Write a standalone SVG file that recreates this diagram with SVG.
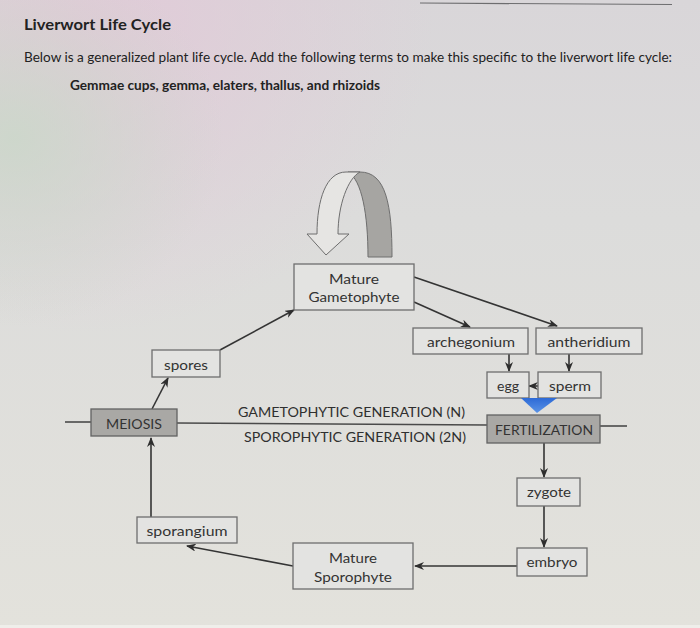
<svg xmlns="http://www.w3.org/2000/svg" width="700" height="628" viewBox="0 0 700 628">
  <defs>
    <linearGradient id="bg" x1="0" y1="0" x2="0" y2="1">
      <stop offset="0" stop-color="#d9d6d9"/>
      <stop offset="0.35" stop-color="#dcdcdb"/>
      <stop offset="1" stop-color="#e3e2dc"/>
    </linearGradient>
    <radialGradient id="pink" cx="0.12" cy="0.03" r="0.5">
      <stop offset="0" stop-color="#e2c9d8" stop-opacity="0.9"/>
      <stop offset="1" stop-color="#e2c9d8" stop-opacity="0"/>
    </radialGradient>
    <radialGradient id="green" cx="0.02" cy="0.22" r="0.3">
      <stop offset="0" stop-color="#c9d8c8" stop-opacity="0.8"/>
      <stop offset="1" stop-color="#c9d8c8" stop-opacity="0"/>
    </radialGradient>
    <linearGradient id="blue" x1="0" y1="0" x2="0" y2="1">
      <stop offset="0" stop-color="#2d6ad6"/>
      <stop offset="1" stop-color="#5a93e6"/>
    </linearGradient>
    <marker id="ah" viewBox="0 0 10 8" refX="9" refY="4" markerWidth="10" markerHeight="8" markerUnits="userSpaceOnUse" orient="auto">
      <path d="M0,0 L10,4 L0,8 L3,4 z" fill="#2e2e2e"/>
    </marker>
    <style>
      .box { fill: #e3e3e1; stroke: #6e6e6e; stroke-width: 1.3; }
      .dark { fill: #a9a8a5; stroke: #626262; stroke-width: 1.3; }
      .lbl { font-family: Lato, "Open Sans", "Liberation Sans", sans-serif; font-size: 14px; fill: #333333; }
      .gen { font-family: Lato, "Open Sans", "Liberation Sans", sans-serif; font-size: 13.5px; fill: #2f2f2f; }
      .hdr { font-family: Lato, "Open Sans", "Liberation Sans", sans-serif; fill: #222222; }
      .con { fill: none; stroke: #343434; stroke-width: 1.6; }
      .genline { fill: none; stroke: #4a4a4a; stroke-width: 1.6; }
    </style>
  </defs>

  <rect x="0" y="0" width="700" height="628" fill="url(#bg)"/>
  <rect x="0" y="0" width="700" height="628" fill="url(#pink)"/>
  <rect x="0" y="0" width="700" height="628" fill="url(#green)"/>
  <rect x="0" y="625" width="700" height="3" fill="#efeeea"/>

  <line x1="420" y1="3" x2="672" y2="4.5" stroke="#6d6d6f" stroke-width="1.2"/>

  <text class="hdr" x="24" y="30" font-size="16" font-weight="bold" textLength="147" lengthAdjust="spacingAndGlyphs">Liverwort Life Cycle</text>
  <text class="hdr" x="24" y="62" font-size="12.5" textLength="648" lengthAdjust="spacingAndGlyphs">Below is a generalized plant life cycle.  Add the following terms to make this specific to the liverwort life cycle:</text>
  <text class="hdr" x="70" y="90" font-size="12.5" font-weight="bold" textLength="310" lengthAdjust="spacingAndGlyphs">Gemmae cups, gemma, elaters, thallus, and rhizoids</text>

  <g id="generation-line">
    <line class="genline" x1="65" y1="422" x2="91" y2="422"/>
    <line class="genline" x1="177" y1="423" x2="487" y2="425"/>
    <line class="genline" x1="600" y1="426" x2="627" y2="426"/>
    <text class="gen" x="238" y="417" textLength="227" lengthAdjust="spacingAndGlyphs">GAMETOPHYTIC GENERATION (N)</text>
    <text class="gen" x="244" y="442" textLength="222" lengthAdjust="spacingAndGlyphs">SPOROPHYTIC GENERATION (2N)</text>
  </g>

  <g id="connectors">
    <line class="con" x1="414" y1="302" x2="470" y2="327" marker-end="url(#ah)"/>
    <line class="con" x1="414" y1="277" x2="557" y2="326" marker-end="url(#ah)"/>
    <line class="con" x1="509" y1="354" x2="509" y2="371" marker-end="url(#ah)"/>
    <line class="con" x1="569" y1="354" x2="569" y2="371" marker-end="url(#ah)"/>
    <line class="con" x1="544" y1="386" x2="529" y2="386" marker-end="url(#ah)"/>
    <line class="con" x1="220" y1="350" x2="294" y2="310" marker-end="url(#ah)"/>
    <line class="con" x1="152" y1="409" x2="168" y2="378" marker-end="url(#ah)"/>
    <line class="con" x1="544" y1="443" x2="544" y2="477" marker-end="url(#ah)"/>
    <line class="con" x1="544" y1="500" x2="544" y2="547" marker-end="url(#ah)"/>
    <line class="con" x1="517" y1="566" x2="415" y2="566" marker-end="url(#ah)"/>
    <line class="con" x1="293" y1="566" x2="187" y2="546" marker-end="url(#ah)"/>
    <line class="con" x1="151" y1="517" x2="151" y2="438" marker-end="url(#ah)"/>
  </g>

  <g id="u-turn-arrow">
    <path d="M368,257 L392,257 C392,205 386,172 360,172 L348,172 C362,180 368,215 368,257 Z" fill="#a6a5a2" stroke="#6e6e6e" stroke-width="1"/>
    <path d="M317,234 C317,200 326,172 346,172 L360,172 C348,178 338,205 338,234 L349,234 L326,255 L307,234 Z" fill="#e6e5e3" stroke="#6e6e6e" stroke-width="1"/>
  </g>

  <g id="mature-gametophyte">
    <rect class="box" x="294" y="264" width="120" height="46"/>
    <text class="lbl" x="354" y="284" text-anchor="middle" textLength="50" lengthAdjust="spacingAndGlyphs">Mature</text>
    <text class="lbl" x="354" y="302" text-anchor="middle" textLength="91" lengthAdjust="spacingAndGlyphs">Gametophyte</text>
  </g>

  <g id="archegonium">
    <rect class="box" x="413" y="328" width="115" height="26"/>
    <text class="lbl" x="471" y="347" text-anchor="middle" textLength="88" lengthAdjust="spacingAndGlyphs">archegonium</text>
  </g>

  <g id="antheridium">
    <rect class="box" x="536" y="328" width="106" height="26"/>
    <text class="lbl" x="589" y="347" text-anchor="middle" textLength="83" lengthAdjust="spacingAndGlyphs">antheridium</text>
  </g>

  <g id="egg">
    <rect class="box" x="487" y="372" width="42" height="26"/>
    <text class="lbl" x="508" y="391" text-anchor="middle" textLength="22" lengthAdjust="spacingAndGlyphs">egg</text>
  </g>

  <g id="sperm">
    <rect class="box" x="538" y="372" width="63" height="26"/>
    <text class="lbl" x="570" y="391" text-anchor="middle" textLength="42" lengthAdjust="spacingAndGlyphs">sperm</text>
  </g>

  <g id="fusion-triangle">
    <path d="M521,398 L557,398 L537,413 Z" fill="url(#blue)"/>
  </g>

  <g id="spores">
    <rect class="box" x="152" y="350" width="68" height="27"/>
    <text class="lbl" x="186" y="370" text-anchor="middle" textLength="44" lengthAdjust="spacingAndGlyphs">spores</text>
  </g>

  <g id="meiosis">
    <rect class="dark" x="91" y="409" width="86" height="27"/>
    <text class="lbl" x="134" y="429" text-anchor="middle" textLength="56" lengthAdjust="spacingAndGlyphs">MEIOSIS</text>
  </g>

  <g id="fertilization">
    <rect class="dark" x="487" y="415" width="113" height="28"/>
    <text class="lbl" x="544" y="435" text-anchor="middle" textLength="98" lengthAdjust="spacingAndGlyphs">FERTILIZATION</text>
  </g>

  <g id="zygote">
    <rect class="box" x="517" y="478" width="63" height="28"/>
    <text class="lbl" x="549" y="497" text-anchor="middle" textLength="44" lengthAdjust="spacingAndGlyphs">zygote</text>
  </g>

  <g id="embryo">
    <rect class="box" x="517" y="548" width="70" height="28"/>
    <text class="lbl" x="552" y="567" text-anchor="middle" textLength="51" lengthAdjust="spacingAndGlyphs">embryo</text>
  </g>

  <g id="mature-sporophyte">
    <rect class="box" x="293" y="543" width="120" height="46"/>
    <text class="lbl" x="353" y="563" text-anchor="middle" textLength="48" lengthAdjust="spacingAndGlyphs">Mature</text>
    <text class="lbl" x="353" y="582" text-anchor="middle" textLength="78" lengthAdjust="spacingAndGlyphs">Sporophyte</text>
  </g>

  <g id="sporangium">
    <rect class="box" x="137" y="517" width="100" height="26"/>
    <text class="lbl" x="187" y="536" text-anchor="middle" textLength="81" lengthAdjust="spacingAndGlyphs">sporangium</text>
  </g>
</svg>
